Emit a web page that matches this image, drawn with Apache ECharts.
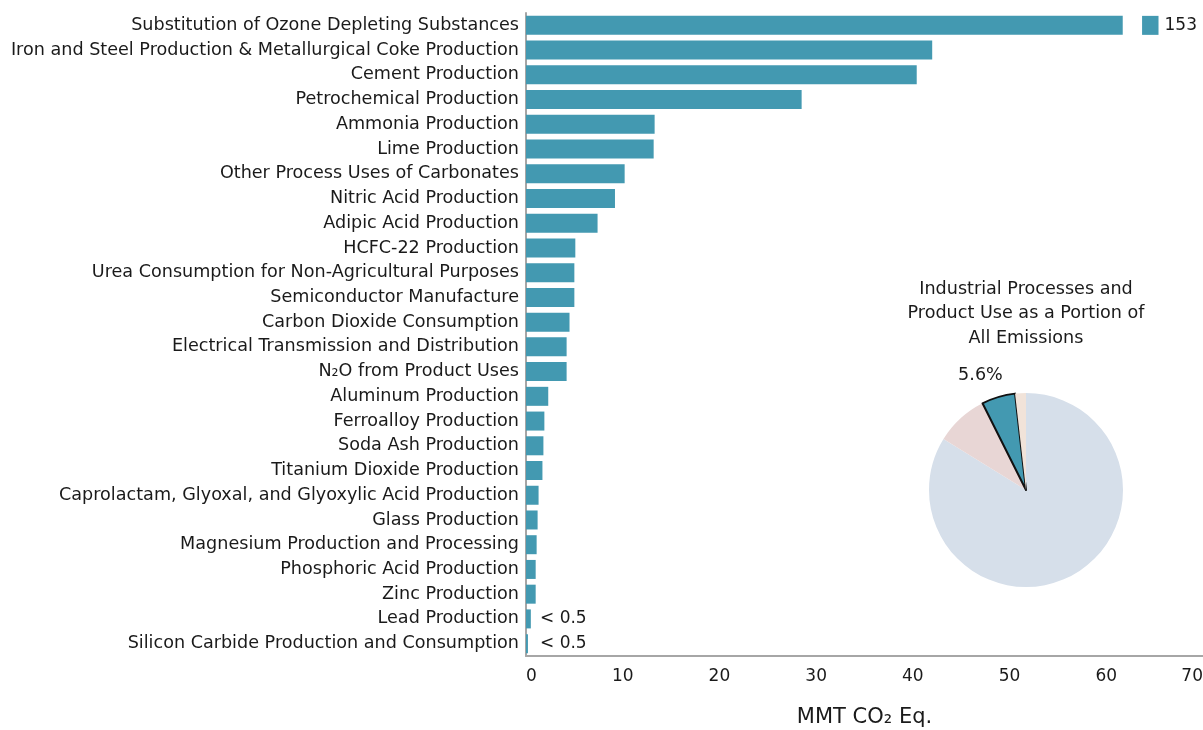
<!DOCTYPE html>
<html>
<head>
<meta charset="utf-8">
<script src="https://cdn.jsdelivr.net/npm/echarts@6/dist/echarts.min.js"></script>
<style>html,body{margin:0;padding:0;background:#fff}#c{width:1203px;height:730px}</style>
</head>
<body>
<div id="c"></div>
<script>
const categories = [
  'Substitution of Ozone Depleting Substances',
  'Iron and Steel Production & Metallurgical Coke Production',
  'Cement Production',
  'Petrochemical Production',
  'Ammonia Production',
  'Lime Production',
  'Other Process Uses of Carbonates',
  'Nitric Acid Production',
  'Adipic Acid Production',
  'HCFC-22 Production',
  'Urea Consumption for Non-Agricultural Purposes',
  'Semiconductor Manufacture',
  'Carbon Dioxide Consumption',
  'Electrical Transmission and Distribution',
  'N\u2082O from Product Uses',
  'Aluminum Production',
  'Ferroalloy Production',
  'Soda Ash Production',
  'Titanium Dioxide Production',
  'Caprolactam, Glyoxal, and Glyoxylic Acid Production',
  'Glass Production',
  'Magnesium Production and Processing',
  'Phosphoric Acid Production',
  'Zinc Production',
  'Lead Production',
  'Silicon Carbide Production and Consumption'
];
const values = [153, 42.0, 40.4, 28.5, 13.3, 13.2, 10.2, 9.2, 7.4, 5.1, 5.0, 5.0, 4.5, 4.2, 4.2, 2.3, 1.9, 1.8, 1.7, 1.3, 1.2, 1.1, 1.0, 1.0, 0.5, 0.2];
const valueLabels = ['153', '', '', '', '', '', '', '', '', '', '', '', '', '', '', '', '', '', '', '', '', '', '', '', '< 0.5', '< 0.5'];
const axisBreakAt = 61.7;
const pieNames = ['Energy', 'Agriculture', 'Industrial Processes and Product Use', 'Waste'];
const pieValues = [83.8, 8.8, 5.6, 1.8];

const teal = '#4399b1';
const font = 'DejaVu Sans';
const shown = values.map(v => Math.min(v, axisBreakAt));
const gap = values.map(v => v > axisBreakAt ? 2.0 : 0);
const marker = values.map(v => v > axisBreakAt ? 1.7 : 0);

const chart = echarts.init(document.getElementById('c'));
chart.setOption({
  animation: false,
  textStyle: { fontFamily: font },
  title: {
    text: 'Industrial Processes and\nProduct Use as a Portion of\nAll Emissions',
    left: 1021, top: 272, textAlign: 'center',
    textStyle: { fontFamily: font, fontSize: 17.6, fontWeight: 'normal', color: '#1a1a1a', lineHeight: 24.5 }
  },
  grid: { left: 526, right: 0, top: 13, bottom: 74, containLabel: false, outerBoundsMode: 'none' },
  xAxis: {
    type: 'value', min: 0, max: 70, interval: 10,
    axisLine: { show: true, lineStyle: { color: '#a6a6a6', width: 2 } },
    axisTick: { show: false }, splitLine: { show: false },
    axisLabel: { fontFamily: font, fontSize: 17, color: '#1a1a1a', margin: 12, alignMinLabel: 'left', alignMaxLabel: 'right' },
    name: 'MMT CO\u2082 Eq.', nameLocation: 'middle', nameGap: 51,
    nameTextStyle: { fontFamily: font, fontSize: 21, color: '#1a1a1a' }
  },
  yAxis: {
    type: 'category', data: categories, inverse: true,
    axisLine: { show: true, lineStyle: { color: '#a6a6a6', width: 2 } },
    axisTick: { show: false },
    axisLabel: { fontFamily: font, fontSize: 17.6, color: '#1a1a1a', margin: 7 }
  },
  series: [
    {
      type: 'bar', stack: 's', data: shown, barWidth: 19,
      itemStyle: { color: teal },
      label: {
        show: true, position: [14, '50%'], verticalAlign: 'middle', align: 'left',
        fontFamily: font, fontSize: 17, color: '#1a1a1a',
        formatter: p => (values[p.dataIndex] <= axisBreakAt ? valueLabels[p.dataIndex] : '')
      }
    },
    {
      type: 'bar', stack: 's', data: gap, barWidth: 19,
      itemStyle: { color: 'rgba(0,0,0,0)' }, silent: true
    },
    {
      type: 'bar', stack: 's', data: marker, barWidth: 19,
      itemStyle: { color: teal },
      label: {
        show: true, position: 'right', distance: 6,
        fontFamily: font, fontSize: 17, color: '#1a1a1a',
        formatter: p => (marker[p.dataIndex] ? valueLabels[p.dataIndex] : '')
      }
    },
    {
      type: 'pie', center: [1026, 490], radius: 97, startAngle: 90, clockwise: true,
      data: pieNames.map((n, i) => ({
        name: n, value: pieValues[i],
        itemStyle: i === 2 ? { color: teal, borderColor: '#111', borderWidth: 2 } : { color: ['#d6dfea', '#e8d6d5', teal, '#f1e3d9'][i] },
        label: i === 2 ? { show: true } : { show: false }
      })),
      label: {
        position: 'outside', fontFamily: font, fontSize: 17.6, color: '#1a1a1a',
        formatter: p => p.value.toFixed(1) + '%'
      },
      labelLine: { show: false, length: 23, length2: -16 },
      emphasis: { disabled: true }
    }
  ]
});
</script>
</body>
</html>
